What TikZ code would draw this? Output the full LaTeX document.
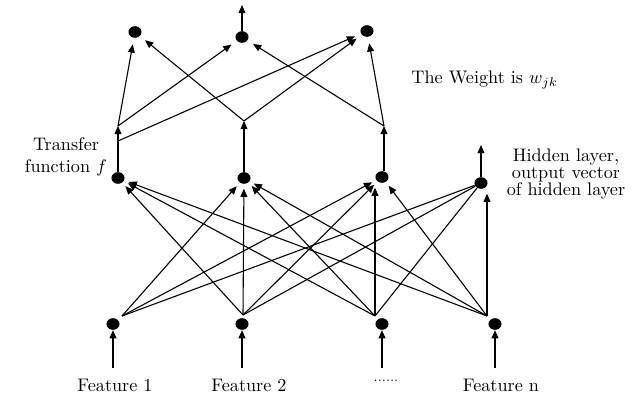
\documentclass[tikz,border=0pt]{standalone}
\usetikzlibrary{arrows.meta,shapes.geometric}
\begin{document}
\begin{tikzpicture}[x=0.55pt,y=-0.55pt,
  unit/.style={ellipse,fill=black,inner sep=0pt,minimum width=7.2pt,minimum height=6.4pt},
  link/.style={-{Triangle[length=4.5pt,width=3.8pt]},line width=0.6pt},
  plain/.style={line width=0.6pt},
  feature/.style={anchor=base,text height=7pt,text depth=0pt,inner ysep=6pt}]
\useasboundingbox (0,0) rectangle (644,398);
% input layer
\node[unit] (i1) at (113,324) {};
\node[unit] (i2) at (242,324) {};
\node[unit] (i3) at (382,324) {};
\node[unit] (i4) at (495,324) {};
\node[feature] (f1) at (115,392) {Feature 1};
\node[feature] (f2) at (249,392) {Feature 2};
\node[feature] (f3) at (386,392) {\raisebox{5.5pt}{\scriptsize ......}};
\node[feature] (f4) at (501,392) {Feature n};
\foreach \i in {1,...,4}
  \draw[link] (f\i.north -| i\i) -- (i\i.south);
\coordinate (s1) at (122,316);
\coordinate (s2) at (243,315);
\coordinate (s3) at (375,316);
\coordinate (s4) at (487,316);
% hidden layer
\node[unit] (h1) at (118,178) {};
\node[unit] (h2) at (244,178) {};
\node[unit] (h3) at (382,177) {};
\node[unit] (h4) at (481,183) {};
\foreach \s/\h in {2/1,3/1,4/1,1/2,2/2,3/2,4/2,1/3,2/3,4/3}
  \draw[link,shorten >=2.5pt] (s\s) -- (h\h);
\draw[link,shorten >=2.5pt] (s3) -- (s3 |- h3.south);
\foreach \s in {1,2,3}
  \draw[plain] (s\s) -- (h4);
\draw[link,shorten >=2.5pt] (s4) -- (s4 |- h4.south);
\coordinate (h4out) at (481,145);
\draw[link] (h4.north) -- (h4out);
% transfer function
\coordinate (j1) at (118,126);
\coordinate (j1b) at (118,141);
\coordinate (j2) at (244,121);
\coordinate (j3) at (384,126);
\draw[link] (h1.north) -- (j1);
\draw[link] (h2.north) -- (j2);
\draw[link] (h3.north -| j3) -- (j3);
% output layer
\node[unit] (o1) at (135,32) {};
\node[unit] (o2) at (242,37) {};
\node[unit] (o3) at (367,31) {};
\coordinate (out) at (242,5);
\draw[link] (o2.north) -- (out);
\foreach \j/\o in {j1/o1,j1/o2,j1b/o3,j2/o1,j2/o3,j3/o2,j3/o3}
  \draw[link,shorten >=3.5pt] (\j) -- (\o);
% labels
\node[anchor=base west] (weight) at (405,84) {The Weight is $w_{jk}$};
\node[align=center] (transfer) at (66,157) {Transfer\\function $f$};
\node[align=center,font=\fontsize{10pt}{9.2pt}\selectfont] (hidden) at (566,174)
  {Hidden layer,\\output vector\\of hidden layer};
\end{tikzpicture}
\end{document}
